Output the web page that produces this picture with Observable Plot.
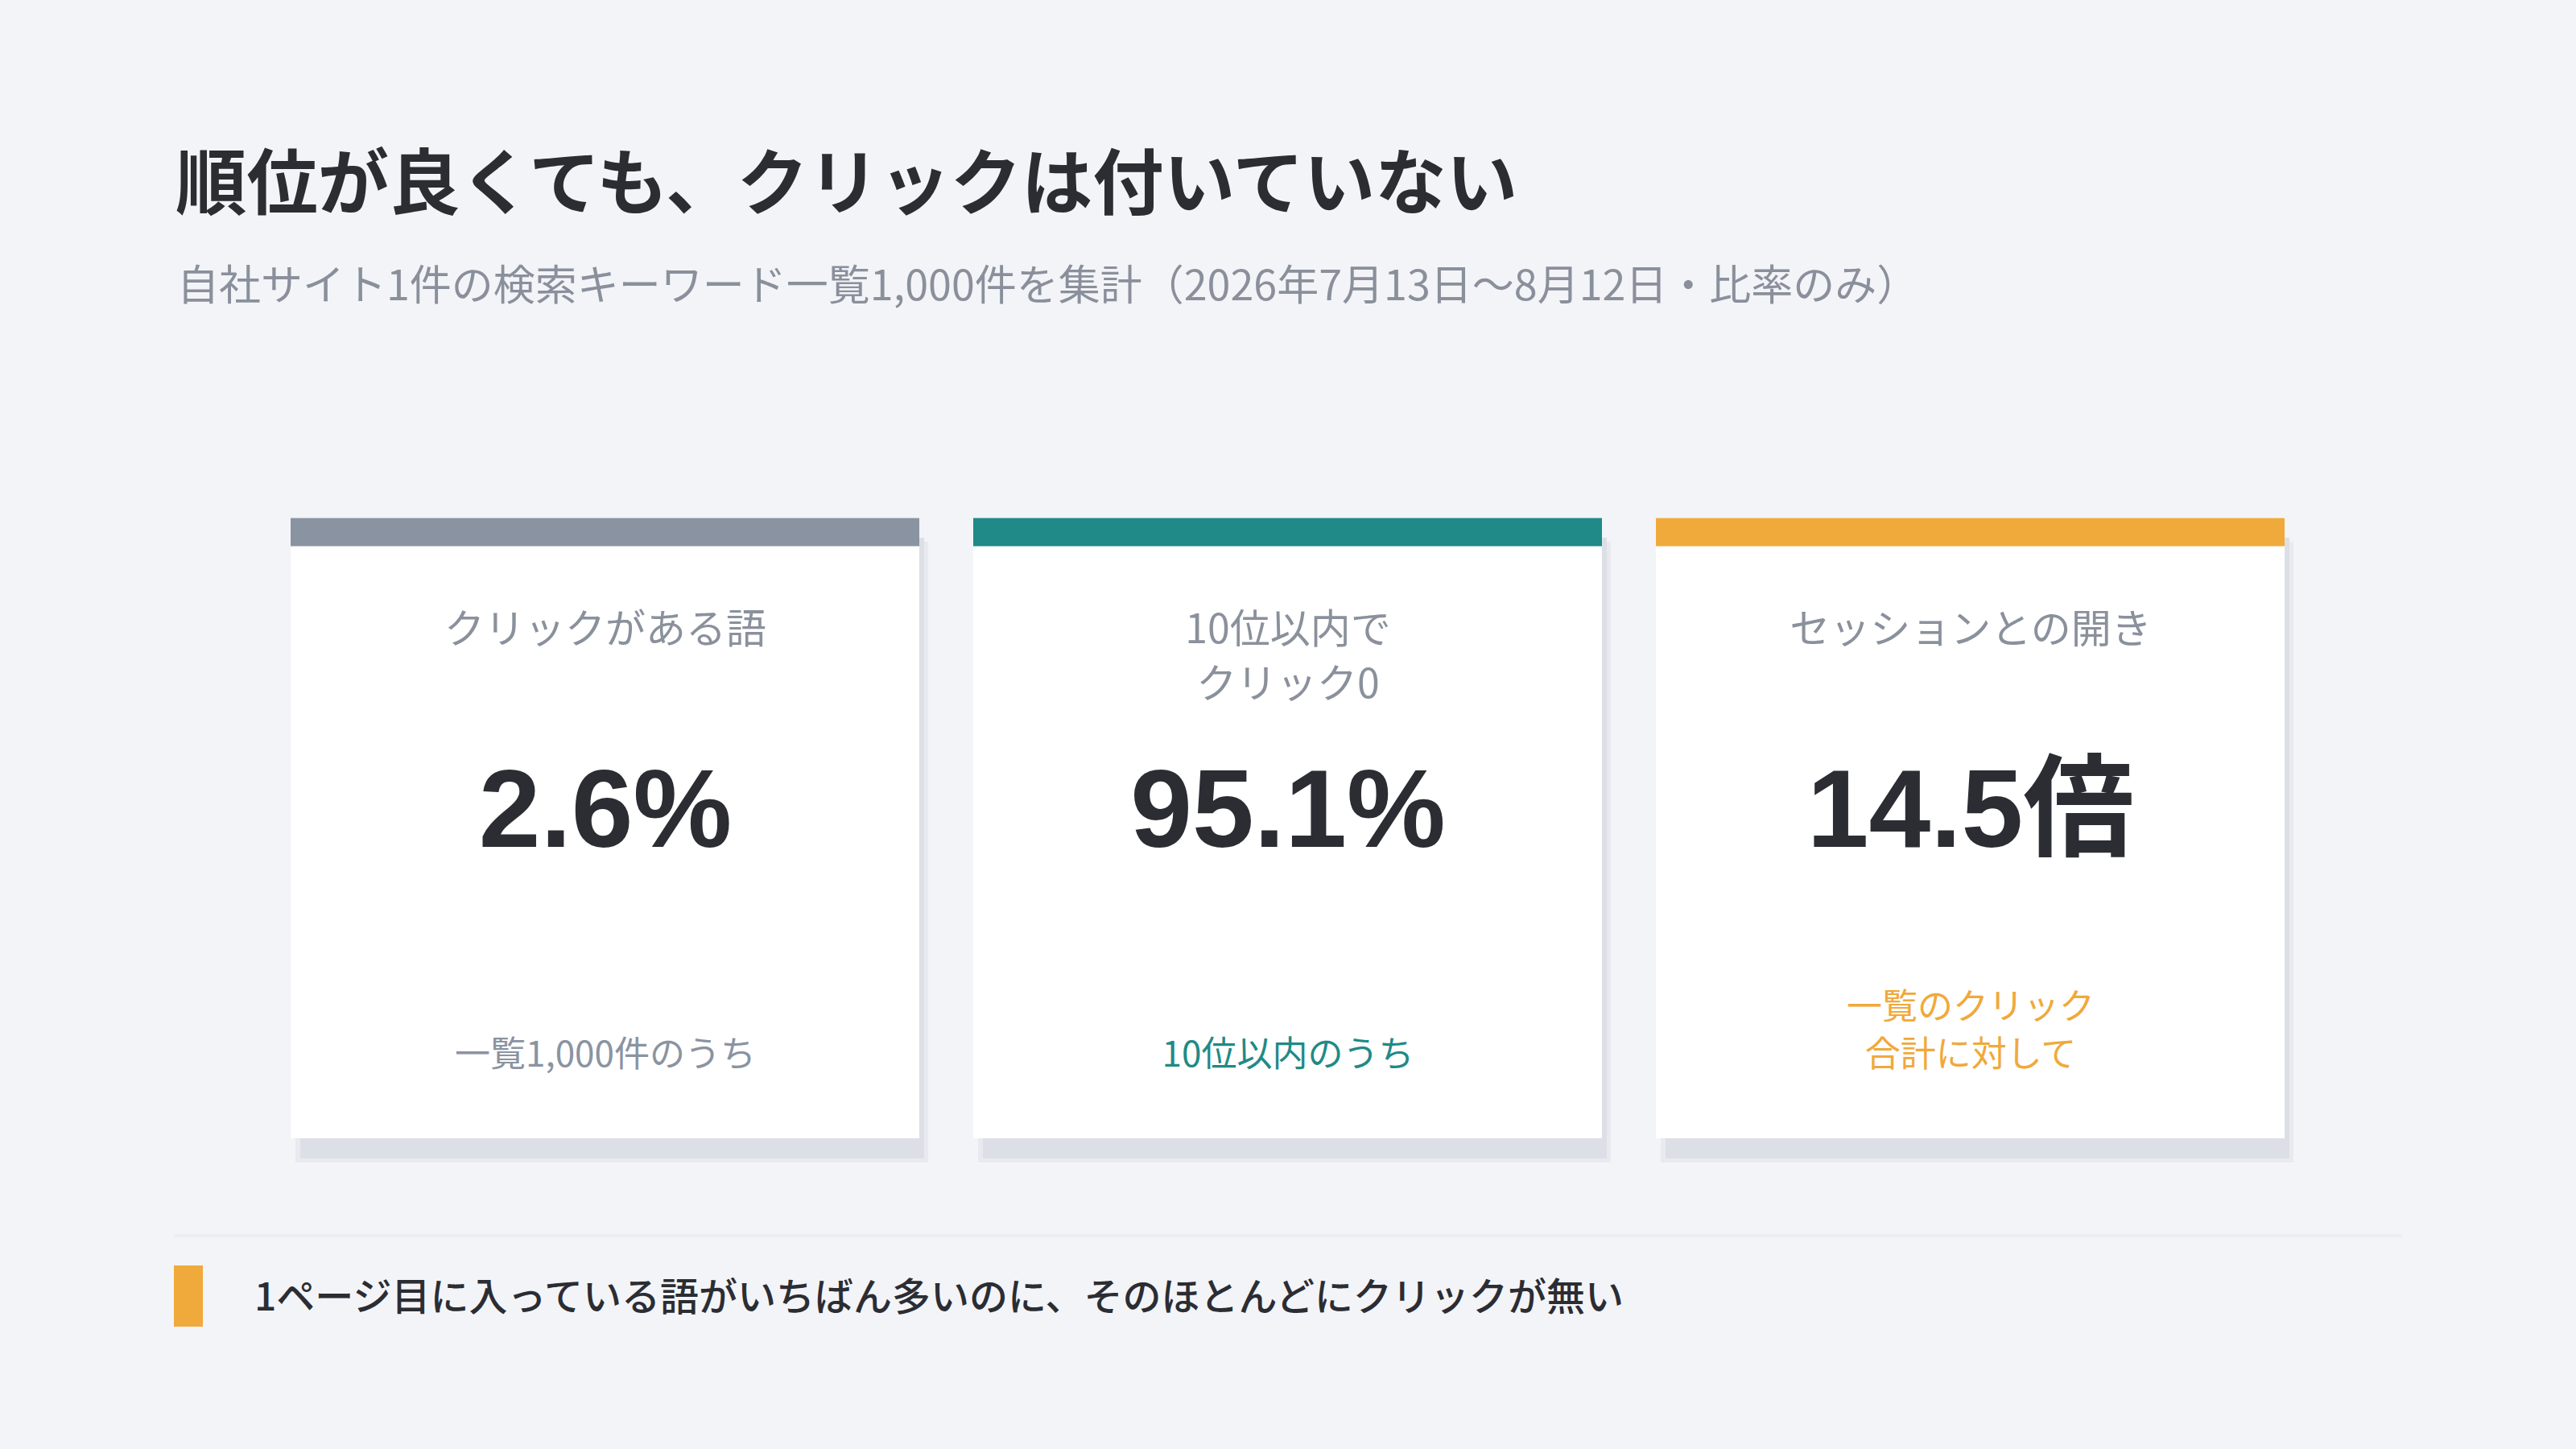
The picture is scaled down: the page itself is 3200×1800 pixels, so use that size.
<!DOCTYPE html>
<html lang="ja">
<head>
<meta charset="utf-8">
<script src="https://cdn.jsdelivr.net/npm/d3@7"></script>
<script src="https://cdn.jsdelivr.net/npm/@observablehq/plot@0.6"></script>
<style>
  html, body { margin: 0; padding: 0; background: #f3f4f8; }
  #page { position: relative; width: 3200px; height: 1800px; background: #f3f4f8; overflow: hidden;
          font-family: "Noto Sans CJK JP", "Noto Sans", sans-serif; }
  #title { position: absolute; left: 218px; top: 176px; font-size: 88.4px; line-height: 1; font-weight: 700; color: #2b2d33; white-space: nowrap; }
  #subtitle { position: absolute; left: 220px; top: 325px; font-size: 52px; line-height: 1; font-weight: 400; color: #8a909b; white-space: nowrap; }
  #chart { position: absolute; left: 0; top: 600px; }
  #rule { position: absolute; left: 216px; top: 1533px; width: 2768px; height: 4px; background: #eceef2; }
  #marker { position: absolute; left: 216px; top: 1572px; width: 36px; height: 76px; }
  #footer { position: absolute; left: 316px; top: 1583px; font-size: 48px; line-height: 1; font-weight: 500; color: #2b2d33; white-space: nowrap; }
</style>
</head>
<body>
<div id="page">
  <div id="title"></div>
  <div id="subtitle"></div>
  <div id="chart"></div>
  <div id="rule"></div>
  <div id="marker"></div>
  <div id="footer"></div>
</div>
<script>
// ---- data ----
const titleText = "順位が良くても、クリックは付いていない";
const subtitleText = "自社サイト1件の検索キーワード一覧1,000件を集計（2026年7月13日〜8月12日・比率のみ）";
const cardKeys = ["clicked", "top10zero", "sessionGap"];
const cardLabels = ["クリックがある語", "10位以内で\nクリック0", "セッションとの開き"];
const cardValues = ["2.6%", "95.1%", "14.5倍"];
const cardNotes = ["一覧1,000件のうち", "10位以内のうち", "一覧のクリック\n合計に対して"];
const cardColors = ["#8a93a1", "#1f8a87", "#f0a93b"];
const footerText = "1ページ目に入っている語がいちばん多いのに、そのほとんどにクリックが無い";
const footerColor = "#f0a93b";

const rows = cardKeys.map((k, i) => ({
  key: k, label: cardLabels[i], value: cardValues[i], note: cardNotes[i], color: cardColors[i]
}));

document.getElementById("title").textContent = titleText;
document.getElementById("subtitle").textContent = subtitleText;
document.getElementById("footer").textContent = footerText;
document.getElementById("marker").style.background = footerColor;

const cjk = "'Noto Sans CJK JP', 'Noto Sans', sans-serif";
const num = "'Liberation Sans', Arial, 'Noto Sans CJK JP', sans-serif";

const chart = Plot.plot({
  width: 3200,
  height: 900,
  marginTop: 43,
  marginBottom: 86,
  marginLeft: 360,
  marginRight: 361,
  style: {background: "transparent", overflow: "visible", fontFamily: cjk},
  x: {type: "band", domain: cardKeys, paddingInner: 0.079, paddingOuter: 0, axis: null},
  y: {domain: [0, 1], axis: null},
  marks: [
    // soft shadow (outer)
    Plot.barY(rows, {x: "key", y: 1, fill: "#e8eaef", insetLeft: 6, insetRight: -11, insetTop: 30, insetBottom: -30}),
    // shadow (inner)
    Plot.barY(rows, {x: "key", y: 1, fill: "#dcdfe6", insetLeft: 12, insetRight: -6, insetTop: 25, insetBottom: -25}),
    // card
    Plot.barY(rows, {x: "key", y: 1, fill: "white"}),
    // coloured top band
    Plot.tickY(rows, {x: "key", y: 1, stroke: "color", strokeWidth: 35, dy: 17.5, strokeLinecap: "butt"}),
    // label
    Plot.text(rows, {x: "key", y: 1, text: "label", lineAnchor: "top", dy: 107, fontSize: 50, lineHeight: 1.36,
      fill: "#8a919c", fontFamily: cjk}),
    // value
    Plot.text(rows, {x: "key", y: 1, text: "value", lineAnchor: "middle", dy: 364, fontSize: 138, fontWeight: 700,
      fill: "#2b2d33", fontFamily: num}),
    // note
    Plot.text(rows, {x: "key", y: 0, text: "note", lineAnchor: "bottom", dy: -90, fontSize: 44, lineHeight: 1.32,
      fill: "color", fontFamily: cjk})
  ]
});
document.getElementById("chart").appendChild(chart);
</script>
</body>
</html>
